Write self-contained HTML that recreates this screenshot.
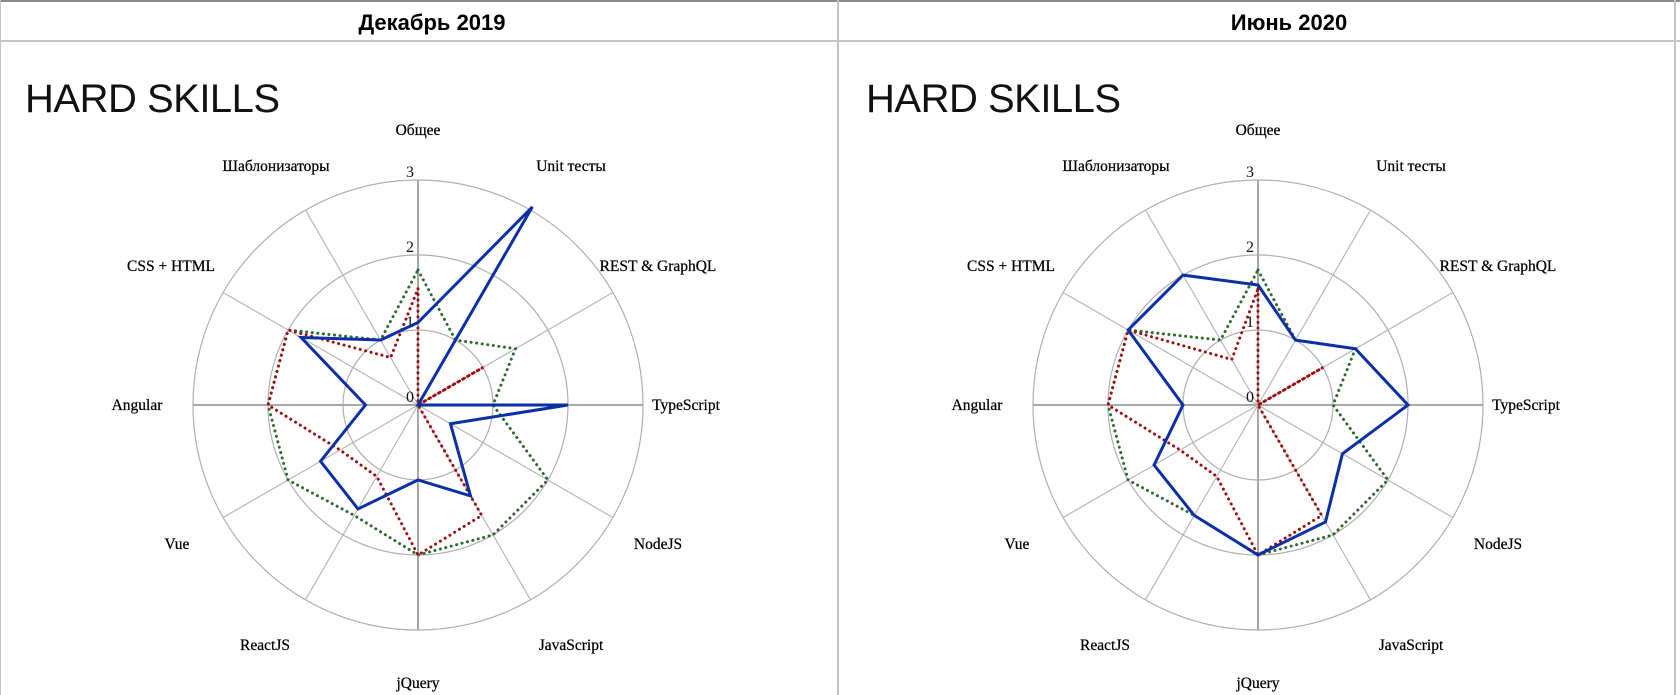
<!DOCTYPE html>
<html><head><meta charset="utf-8">
<style>
html,body{margin:0;padding:0;background:#fff;}
body{width:1680px;height:695px;position:relative;overflow:hidden;font-family:"Liberation Sans",sans-serif;}
.hdr{position:absolute;top:0;height:41px;line-height:46px;font-weight:bold;font-size:22px;color:#000;}
.title{position:absolute;top:77px;font-size:40px;color:#111;letter-spacing:-0.5px;}
svg{position:absolute;left:0;top:0;}
</style></head>
<body>
<div style="position:absolute;left:0;top:0;width:1680px;height:2px;background:#8a8a8a"></div>
<div style="position:absolute;left:0;top:40px;width:1680px;height:2px;background:#c4c4c4"></div>
<div style="position:absolute;left:837px;top:0;width:2px;height:695px;background:#c4c4c4"></div>
<div style="position:absolute;left:1674px;top:0;width:2px;height:695px;background:#c4c4c4"></div>
<div style="position:absolute;left:0;top:0;width:1px;height:695px;background:#c4c4c4"></div>
<div class="hdr" style="left:0;width:864px;text-align:center">Декабрь 2019</div>
<div class="hdr" style="left:839px;width:900px;text-align:center">Июнь 2020</div>
<div class="title" style="left:25px">HARD SKILLS</div>
<div class="title" style="left:866px">HARD SKILLS</div>
<svg id="chart" width="1680" height="695"></svg>
<script>
const categories = ["Общее","Unit тесты","REST & GraphQL","TypeScript","NodeJS","JavaScript","jQuery","ReactJS","Vue","Angular","CSS + HTML","Шаблонизаторы"];
const ticks = ["0","1","2","3"];
const decBlue  = [1.1,3.05,0,2,0.5,1.4,1,1.6,1.5,0.7,1.8,1];
const decGreen = [1.8,1,1.5,1,2,2,2,1.7,2,2,2,1];
const decRed   = [1.55,0,1,0,0,1.7,2,1.1,1.2,2,2,0.73];
const junBlue  = [1.6,1,1.5,2,1.3,1.8,2,1.7,1.6,1,2,2];
const junGreen = [1.8,1,1.5,1,2,2,2,1.7,2,2,2,1];
const junRed   = [1.55,0,1,0,0,1.7,2,1.1,1.2,2,2,0.7];

const NS="http://www.w3.org/2000/svg";
const svg=document.getElementById('chart');
const R=225, MAXV=3;
const labelOff=[[0,-275],[153,-239],[240,-139],[268,0],[240,139],[153,240],[0,278],[-153,240],[-241,139],[-281,0],[-247,-139],[-142,-239]];
function mk(tag,attrs,parent){const e=document.createElementNS(NS,tag);for(const k in attrs)e.setAttribute(k,attrs[k]);(parent||svg).appendChild(e);return e;}
function rScale(v){return v/MAXV*R;}
function pt(cx,cy,i,v){const a=i*2*Math.PI/categories.length;const r=rScale(v);return [cx+r*Math.sin(a),cy-r*Math.cos(a)];}
function drawChart(cx,cy,series,prefix){
  const g=mk('g',{});
  
  
  for(let t=1;t<ticks.length;t++){
    const c=mk('circle',{cx:cx,cy:cy,r:rScale(t),fill:'none',stroke:'#b0b0b0','stroke-width':1.2},g);
    
    
  }
  categories.forEach((c,i)=>{
    const [x,y]=pt(cx,cy,i,MAXV);
    const l=mk('line',{x1:cx,y1:cy,x2:x,y2:y,stroke:(i%3==0)?'#a8a8a8':'#b8b8b8','stroke-width':(i%3==0)?2:1.2},g);
    
    
    const tx=mk('text',{x:cx+labelOff[i][0],y:cy+labelOff[i][1]+5,'text-anchor':'middle','font-family':'"Liberation Serif","Noto Serif CJK SC",serif','font-size':'15.5','fill':'#000','stroke':'#000','stroke-width':'0.25'},g);
    tx.textContent=c;
    
    
  });
  ticks.forEach((t,k)=>{
    const tx=mk('text',{x:cx-4,y:cy-rScale(k)-3,'text-anchor':'end','font-family':'"Liberation Serif",serif','font-size':'16','fill':'#111'},g);
    tx.textContent=t;
    
    
  });
  series.forEach(s=>{
    const pts=s.vals.map((v,i)=>pt(cx,cy,i,v).join(',')).join(' ');
    const attrs={points:pts,fill:'none',stroke:s.color,'stroke-width':3,'stroke-linejoin':'miter'};
    if(s.dotted){attrs['stroke-dasharray']='0.1 5.5';attrs['stroke-linecap']='round';}
    const p=mk('polygon',attrs,g);
    
    
  });
}
drawChart(418,405,[
  {vals:decGreen,color:'#2f6b2f',dotted:true,name:'dec-green-series'},
  {vals:decRed,color:'#9a1010',dotted:true,name:'dec-red-series'},
  {vals:decBlue,color:'#0b2fa5',dotted:false,name:'dec-blue-series'}],'dec');
drawChart(1258,405,[
  {vals:junGreen,color:'#2f6b2f',dotted:true,name:'jun-green-series'},
  {vals:junRed,color:'#9a1010',dotted:true,name:'jun-red-series'},
  {vals:junBlue,color:'#0b2fa5',dotted:false,name:'jun-blue-series'}],'jun');
</script>
</body></html>
